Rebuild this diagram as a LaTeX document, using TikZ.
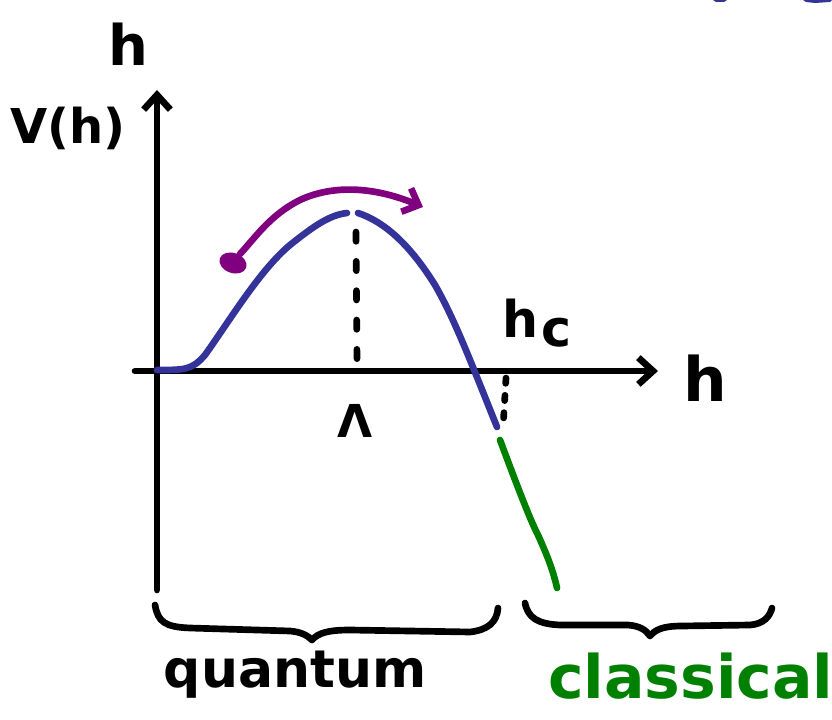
\documentclass[tikz,border=0pt]{standalone}
\usepackage{fontspec}
\setmainfont{DejaVu Sans}
\usetikzlibrary{arrows.meta}
\definecolor{hblue}{RGB}{51,51,153}
\definecolor{hpurple}{RGB}{128,0,128}
\definecolor{hgreen}{RGB}{0,128,0}
\tikzset{
  ink/.style={line width=5pt, line cap=round, line join=round},
  axisline/.style={ink, black, -{Straight Barb[length=11pt,width=20pt,line width=5pt]}},
  dashline/.style={line width=5pt, black, line cap=round, dash pattern=on 7pt off 15pt},
  shortdash/.style={line width=5pt, black, line cap=round, dash pattern=on 4pt off 9pt},
  lbl/.style={inner sep=0pt, font=\bfseries\fontsize{42}{46}\selectfont},
}
\begin{document}
\begin{tikzpicture}[x=0.75pt,y=-0.75pt]
\useasboundingbox (0,0) rectangle (832,720);
\clip (0,0) rectangle (832,720);
% coordinates
\coordinate (vb) at (157,590);
\coordinate (vt) at (157,90);
\coordinate (hl) at (135,371);
\coordinate (hr) at (658,371);
% axes
\draw[axisline] (vb) -- (vt);
\draw[axisline] (hl) -- (hr);
% labels
\node[lbl] (htop) at (128,44) {h};
\node[lbl, font=\bfseries\fontsize{36}{40}\selectfont] (vh) at (68,128) {V(h)};
\node[lbl, font=\bfseries\fontsize{46}{50}\selectfont] (hright) at (705,378) {h};
\node[lbl, font=\bfseries\fontsize{38}{42}\selectfont] (hc) at (521,318) {h};
\node[lbl, font=\bfseries\fontsize{38}{42}\selectfont] (csub) at (557,333) {c};
\node[lbl, font=\bfseries\fontsize{34}{38}\selectfont] (lam) at (355,421) {Λ};
% blue curve
\draw[ink, hblue] (157,370) .. controls (185,370) and (192,370) .. (205,355)
  .. controls (230,320) and (260,270) .. (290,245)
  .. controls (315,225) and (330,215) .. (347,213);
\draw[ink, hblue] (358,213) .. controls (385,222) and (410,245) .. (435,285)
  .. controls (455,320) and (470,360) .. (497,427);
% green
\draw[ink, hgreen] (500,440) .. controls (515,480) and (530,520) .. (538,535)
  .. controls (547,555) and (553,570) .. (557,588);
% dashed
\coordinate (pk) at (356,232);
\coordinate (pkb) at (357,362);
\draw[dashline] (pk) -- (pkb);
\coordinate (hca) at (506,378);
\coordinate (hcb) at (503,428);
\draw[shortdash] (hca) -- (hcb);
% purple arrow
\fill[hpurple, rotate around={-20:(233,263)}] (233,263) ellipse (14 and 10);
\draw[ink, hpurple, -{Straight Barb[length=10pt,width=19pt,line width=5pt]}]
  (240,254) .. controls (255,238) and (270,215) .. (300,200)
  .. controls (330,186) and (370,185) .. (423,207);
% braces
\draw[ink] (155,605) .. controls (158,622) and (165,627) .. (190,628)
  -- (290,631) .. controls (302,632) and (308,636) .. (312,640)
  .. controls (318,633) and (328,630) .. (350,630)
  -- (470,632) .. controls (488,630) and (497,622) .. (498,608);
\draw[ink] (525,603) .. controls (528,618) and (538,624) .. (560,625)
  -- (628,625) .. controls (640,626) and (646,630) .. (650,636)
  .. controls (655,630) and (662,626) .. (682,626)
  -- (750,625) .. controls (764,624) and (770,616) .. (772,608);
\node[lbl, font=\bfseries\fontsize{39}{43}\selectfont] (q) at (295,675) {quantum};
\node[lbl, font=\bfseries\fontsize{45}{49}\selectfont, text=hgreen, anchor=west] (cl) at (548,676) {classical};
% top-right fragments
\fill[hblue] (713,0) -- (727,0) -- (724,2) -- (716,2) -- cycle;
\fill[hblue] (803,0) -- (832,0) -- (830,2) -- (815,3) -- (806,2) -- cycle;
\end{tikzpicture}
\end{document}
